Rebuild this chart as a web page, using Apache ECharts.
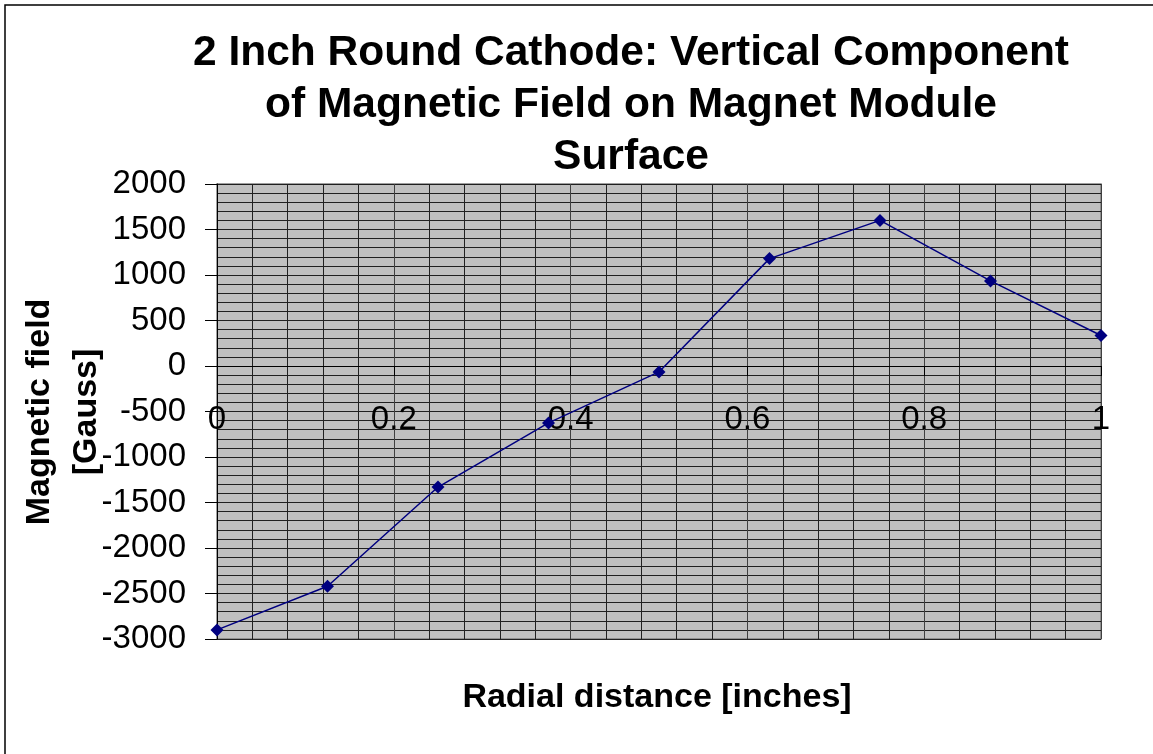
<!DOCTYPE html>
<html>
<head>
<meta charset="utf-8">
<script src="https://cdn.jsdelivr.net/npm/echarts@6/dist/echarts.min.js"></script>
<style>
  html, body { margin: 0; padding: 0; background: #fff; }
  #charts { width: 1153px; height: 754px; }
</style>
</head>
<body>
<div id="charts"></div>
<script>
  // radial distance in inches
  var radius = [0, 0.125, 0.25, 0.375, 0.5, 0.625, 0.75, 0.875, 1];
  // vertical field in gauss
  var field = [-2900, -2420, -1330, -625, -65, 1180, 1600, 935, 335];

  var titleText = '2 Inch Round Cathode: Vertical Component\nof Magnetic Field on Magnet Module\nSurface';
  var xName = 'Radial distance [inches]';
  var yName = 'Magnetic field\n[Gauss]';

  var pairs = radius.map(function (r, i) { return [r, field[i]]; });

  // plot box, and the y=0 crossing the x axis sits on
  var gridTop = 184, gridBottom = 115, plotH = 754 - gridTop - gridBottom;
  var zeroShift = -Math.round(plotH * 3000 / 5000);

  var chart = echarts.init(document.getElementById('charts'));
  chart.setOption({
    animation: false,
    title: {
      text: titleText,
      left: 626,
      top: 22,
      textAlign: 'center',
      textStyle: {
        fontFamily: 'Liberation Sans',
        fontWeight: 'bold',
        fontSize: 42.5,
        lineHeight: 52,
        color: '#000'
      }
    },
    grid: {
      left: 217,
      right: 52,
      top: gridTop,
      bottom: gridBottom,
      show: true,
      backgroundColor: '#c0c0c0',
      borderColor: '#808080',
      borderWidth: 1.5
    },
    xAxis: {
      type: 'value',
      min: 0,
      max: 1,
      interval: 0.2,
      offset: zeroShift,
      axisLine: { onZero: false, lineStyle: { color: '#000', width: 1 } },
      axisTick: { show: true, length: 10, lineStyle: { color: '#000' } },
      axisLabel: {
        margin: 37,
        fontFamily: 'Liberation Sans',
        fontSize: 33,
        color: '#000',
        showMinLabel: true,
        showMaxLabel: true
      },
      splitLine: { show: true, lineStyle: { color: '#404040', width: 1 } },
      minorTick: { show: false, splitNumber: 5 },
      minorSplitLine: { show: true, lineStyle: { color: '#202020', width: 1 } }
    },
    yAxis: {
      type: 'value',
      min: -3000,
      max: 2000,
      interval: 500,
      axisLine: { show: true, onZero: false, lineStyle: { color: '#000', width: 1 } },
      axisTick: { show: true, length: 12, lineStyle: { color: '#000' } },
      axisLabel: {
        margin: 31,
        fontFamily: 'Liberation Sans',
        fontSize: 33,
        color: '#000',
        formatter: function (v) { return String(v); }
      },
      splitLine: { show: true, lineStyle: { color: '#202020', width: 1 } },
      minorTick: { show: false, splitNumber: 5 },
      minorSplitLine: { show: true, lineStyle: { color: '#202020', width: 1 } }
    },
    graphic: [
      {
        type: 'rect',
        shape: { x: 5, y: 5, width: 1170, height: 770 },
        style: { fill: 'none', stroke: '#000', lineWidth: 1.5 },
        silent: true
      },
      {
        type: 'text',
        x: 657,
        y: 698,
        style: {
          text: xName,
          font: 'bold 34px "Liberation Sans"',
          fill: '#000',
          align: 'center',
          verticalAlign: 'middle'
        }
      },
      {
        type: 'text',
        x: 63,
        y: 412,
        rotation: Math.PI / 2,
        style: {
          text: yName,
          font: 'bold 34px "Liberation Sans"',
          lineHeight: 47,
          fill: '#000',
          align: 'center',
          verticalAlign: 'middle'
        }
      }
    ],
    series: [
      {
        type: 'line',
        data: pairs,
        symbol: 'diamond',
        symbolSize: 13,
        lineStyle: { color: '#000080', width: 1.5 },
        itemStyle: { color: '#000080' },
        z: 5
      }
    ]
  });
</script>
</body>
</html>
